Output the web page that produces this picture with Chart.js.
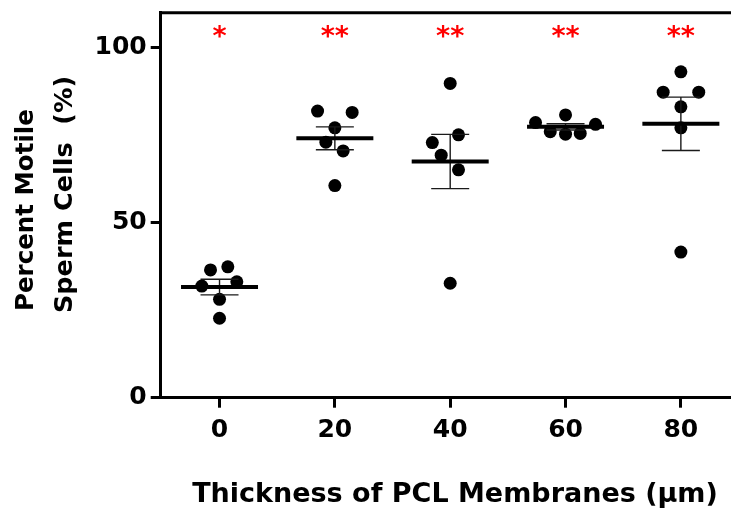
<!DOCTYPE html>
<html><head><meta charset="utf-8">
<script src="https://cdn.jsdelivr.net/npm/chart.js@4.4.1/dist/chart.umd.min.js"></script>
<style>html,body{margin:0;padding:0;overflow:hidden;background:#fff}canvas{display:block}</style>
</head><body>
<canvas id="c" width="741" height="510" style="width:741px;height:510px"></canvas>
<script>
// ---- data ----
const thickness = [0, 20, 40, 60, 80];
const xTickLabels = ['0', '20', '40', '60', '80'];
const yTickValues = [0, 50, 100];
const yTickLabels = ['0', '50', '100'];
const motile0  = [37.4, 36.5, 33.1, 31.9, 28.1, 22.7];
const motile20 = [81.9, 81.5, 77.1, 73.0, 70.5, 60.6];
const motile40 = [89.8, 75.1, 72.9, 69.3, 65.1, 32.7];
const motile60 = [80.8, 78.6, 78.1, 76.0, 75.3, 75.5];
const motile80 = [93.1, 87.3, 87.3, 83.1, 77.1, 41.6];
// horizontal scatter of the column dots, in x-axis units
const spread0  = [1.44, -1.56, 3.0, -3.07, 0, 0];
const spread20 = [-3.0, 3.0, 0, -1.56, 1.44, 0];
const spread40 = [0, 1.44, -3.1, -1.56, 1.44, 0];
const spread60 = [0, -5.2, 5.2, -2.65, 0, 2.55];
const spread80 = [0, -3.07, 3.1, 0, 0, 0];
const significance = ['*', '**', '**', '**', '**'];
const significanceLevel = 104.5;
const xTitle = 'Thickness of PCL Membranes (\u03bcm)';
const yTitleLines = ['Percent Motile', 'Sperm Cells  (%)'];

const groups = [motile0, motile20, motile40, motile60, motile80];
const spreads = [spread0, spread20, spread40, spread60, spread80];
const FONT = '"DejaVu Sans", "Liberation Sans", Arial, sans-serif';

function stats(vals) {
  const n = vals.length;
  const m = vals.reduce((s, v) => s + v, 0) / n;
  const sd = Math.sqrt(vals.reduce((s, v) => s + (v - m) * (v - m), 0) / (n - 1));
  return { mean: m, sem: sd / Math.sqrt(n) };
}

const decor = {
  id: 'decor',
  afterDatasetsDraw(chart) {
    const { ctx, chartArea: a, scales: { x, y } } = chart;
    ctx.save();
    // top frame line
    ctx.strokeStyle = '#000';
    ctx.lineWidth = 3;
    ctx.beginPath();
    ctx.moveTo(a.left - 1.5, a.top);
    ctx.lineTo(a.right + 10, a.top);
    ctx.stroke();
    groups.forEach((vals, i) => {
      const s = stats(vals);
      const cx = x.getPixelForValue(thickness[i]);
      const yt = y.getPixelForValue(s.mean + s.sem);
      const yb = y.getPixelForValue(s.mean - s.sem);
      const ym = y.getPixelForValue(s.mean);
      ctx.strokeStyle = '#1a1a1a';
      ctx.lineWidth = 1.4;
      ctx.beginPath();
      ctx.moveTo(cx, yt); ctx.lineTo(cx, yb);
      ctx.moveTo(cx - 19, yt); ctx.lineTo(cx + 19, yt);
      ctx.moveTo(cx - 19, yb); ctx.lineTo(cx + 19, yb);
      ctx.stroke();
      ctx.strokeStyle = '#000';
      ctx.lineWidth = 4;
      ctx.beginPath();
      ctx.moveTo(cx - 38.5, ym); ctx.lineTo(cx + 38.5, ym);
      ctx.stroke();
      // significance stars
      ctx.fillStyle = '#ff0000';
      ctx.font = 'bold 27px ' + FONT;
      ctx.textAlign = 'center';
      ctx.textBaseline = 'alphabetic';
      const t = significance[i];
      const mt = ctx.measureText(t);
      const cy = y.getPixelForValue(significanceLevel);
      ctx.fillText(t, cx, cy + (mt.actualBoundingBoxAscent - mt.actualBoundingBoxDescent) / 2);
    });
    ctx.restore();
  },
  afterDraw(chart) {
    const { ctx } = chart;
    ctx.save();
    ctx.fillStyle = '#000';
    ctx.font = 'bold 27px ' + FONT;
    ctx.textAlign = 'center';
    ctx.textBaseline = 'alphabetic';
    ctx.fillText(xTitle, 455, 502);
    ctx.textAlign = 'left';
    const pos = [[33.3, 311, 24.5], [71.7, 313, 25.5]];
    yTitleLines.forEach((line, k) => {
      ctx.save();
      ctx.font = 'bold ' + pos[k][2] + 'px ' + FONT;
      ctx.translate(pos[k][0], pos[k][1]);
      ctx.rotate(-Math.PI / 2);
      ctx.fillText(line, 0, 0);
      ctx.restore();
    });
    ctx.restore();
  }
};

const tickFont = { family: FONT, weight: 'bold', size: 25 };

new Chart(document.getElementById('c'), {
  type: 'scatter',
  data: {
    datasets: groups.map((vals, i) => ({
      label: thickness[i] + ' \u03bcm',
      data: vals.map((v, k) => ({ x: thickness[i] + spreads[i][k], y: v })),
      pointRadius: 6.5,
      pointHoverRadius: 6.5,
      backgroundColor: '#000',
      borderColor: '#000',
      borderWidth: 0
    }))
  },
  options: {
    responsive: false,
    animation: false,
    devicePixelRatio: 1,
    layout: { padding: { top: 12.7, right: 2, left: 0, bottom: 0 } },
    plugins: { legend: { display: false }, tooltip: { enabled: false } },
    scales: {
      x: {
        type: 'linear',
        min: -10.2,
        max: 89.3,
        afterBuildTicks: s => { s.ticks = thickness.map(v => ({ value: v })); },
        afterFit: s => { s.height = 112.3; s.paddingLeft = 0; s.paddingRight = 0; },
        border: { color: '#000', width: 3 },
        grid: { drawOnChartArea: false, color: '#000', lineWidth: 3, tickLength: 10 },
        ticks: { color: '#000', font: tickFont, padding: 8, maxRotation: 0,
                 callback: (v, i) => xTickLabels[i] }
      },
      y: {
        min: 0,
        max: 110,
        afterBuildTicks: s => { s.ticks = yTickValues.map(v => ({ value: v })); },
        afterFit: s => { s.width = 160.7; s.paddingTop = 0; s.paddingBottom = 0; },
        border: { color: '#000', width: 3 },
        grid: { drawOnChartArea: false, color: '#000', lineWidth: 3, tickLength: 10 },
        ticks: { color: '#000', font: tickFont, padding: 4,
                 callback: (v, i) => yTickLabels[i] }
      }
    }
  },
  plugins: [decor]
});
</script>
</body></html>
